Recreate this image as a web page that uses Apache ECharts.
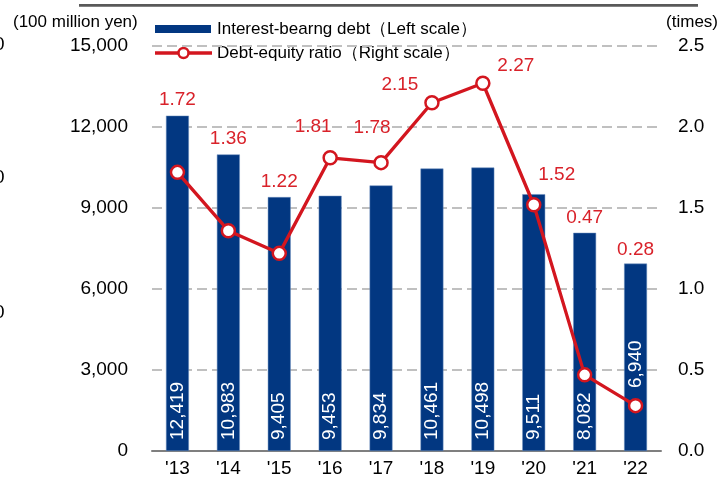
<!DOCTYPE html>
<html>
<head>
<meta charset="utf-8">
<script src="https://cdn.jsdelivr.net/npm/echarts@6/dist/echarts.min.js"></script>
<style>
html,body{margin:0;padding:0;background:#fff;}
#c{width:720px;height:481px;}
</style>
</head>
<body>
<div id="c"></div>
<script>
var categories = ["'13","'14","'15","'16","'17","'18","'19","'20","'21","'22"];
var debtValues = [12419, 10983, 9405, 9453, 9834, 10461, 10498, 9511, 8082, 6940];
var ratioValues = [1.72, 1.36, 1.22, 1.81, 1.78, 2.15, 2.27, 1.52, 0.47, 0.28];
var leftTicks = [0, 3000, 6000, 9000, 12000, 15000];
var rightTicks = [0.0, 0.5, 1.0, 1.5, 2.0, 2.5];
var barName = 'Interest-bearng debt（Left scale）';
var lineName = 'Debt-equity ratio（Right scale）';

// label placement (style only)
var ratioLabelOffsets = [[0,-73],[0,-92],[0,-72],[-17,-31],[-9,-35],[-32,-18],[33,-17],[23,-30],[0,-157],[0,-156]];
var barLabelDistances = [11, 11, 11, 11, 11, 11, 11, 11, 11, 63];

var FONT = 'Arial, "Liberation Sans", sans-serif';
var BLUE = '#023781';
var RED = '#d3161f';
var chart = echarts.init(document.getElementById('c'), null, {renderer:'canvas'});

var lineData = ratioValues.map(function(v,i){
  return {value: v, label: {offset: ratioLabelOffsets[i]}};
});
var barData = debtValues.map(function(v,i){
  return {value: v, label: {distance: barLabelDistances[i]}};
});

var option = {
  backgroundColor: '#fff',
  animation: false,
  grid: {left:152, right:59, top:46, bottom:30, containLabel:false},
  xAxis: {
    type:'category', data: categories,
    axisLine:{show:true, lineStyle:{color:'#7f7f7f', width:2}},
    axisTick:{show:false},
    axisLabel:{color:'#000', fontSize:19, fontFamily:FONT, margin:8}
  },
  yAxis: [{
    type:'value', min:leftTicks[0], max:leftTicks[leftTicks.length-1], interval:leftTicks[1]-leftTicks[0],
    axisLine:{show:false}, axisTick:{show:false},
    axisLabel:{color:'#000', fontSize:19, fontFamily:FONT, margin:24,
      formatter:function(v){return v.toLocaleString('en-US');}},
    splitLine:{show:true, lineStyle:{color:'#c0c0c0', width:2, type:[10,5]}}
  },{
    type:'value', min:rightTicks[0], max:rightTicks[rightTicks.length-1], interval:rightTicks[1]-rightTicks[0],
    axisLine:{show:false}, axisTick:{show:false},
    axisLabel:{color:'#000', fontSize:19, fontFamily:FONT, margin:17, align:'left',
      formatter:function(v){return v.toFixed(1);}},
    splitLine:{show:false}
  }],
  series: [{
    name: barName, type:'bar', data: barData, yAxisIndex:0,
    barWidth:'45%',
    itemStyle:{color:BLUE, borderColor:'#6d8fbf', borderWidth:0.5},
    label:{show:true, position:'insideBottom', distance:11, rotate:90, align:'left', verticalAlign:'middle',
      color:'#fff', fontSize:19, fontFamily:FONT,
      formatter:function(p){return p.value.toLocaleString('en-US');}},
    z:2
  },{
    name: lineName, type:'line', data: lineData, yAxisIndex:1,
    symbol:'circle', symbolSize:13,
    lineStyle:{color:RED, width:3.3},
    itemStyle:{color:'#fff', borderColor:RED, borderWidth:2.5},
    label:{show:true, position:'inside', color:'#d9222a', fontSize:19, fontFamily:FONT,
      formatter:function(p){return p.value.toFixed(2);}},
    z:5
  }],
  graphic: [
    {type:'rect', shape:{x:79, y:4, width:619, height:2.7}, style:{fill:'#595959'}},
    {type:'text', left:-6, top:35, style:{text:'0', fontSize:19, fontFamily:FONT, fill:'#000'}},
    {type:'text', left:-6, top:168, style:{text:'0', fontSize:19, fontFamily:FONT, fill:'#000'}},
    {type:'text', left:-6, top:303, style:{text:'0', fontSize:19, fontFamily:FONT, fill:'#000'}},
    {type:'text', x:13, y:22, style:{text:'(100 million yen)', fontSize:17, fontFamily:FONT, fill:'#000', textVerticalAlign:'middle'}},
    {type:'text', x:718, y:22, style:{text:'(times)', fontSize:17, fontFamily:FONT, fill:'#000', textAlign:'right', textVerticalAlign:'middle'}},
    {type:'rect', shape:{x:155, y:25, width:56, height:8}, style:{fill:BLUE}},
    {type:'text', x:217, y:29, style:{text:barName, fontSize:17, fontFamily:FONT, fill:'#000', textVerticalAlign:'middle'}},
    {type:'line', shape:{x1:155, y1:53, x2:212, y2:53}, style:{stroke:RED, lineWidth:3.3}},
    {type:'circle', shape:{cx:183.5, cy:53, r:5}, style:{fill:'#fff', stroke:RED, lineWidth:2.5}},
    {type:'text', x:217, y:53, style:{text:lineName, fontSize:17, fontFamily:FONT, fill:'#000', textVerticalAlign:'middle'}}
  ]
};
chart.setOption(option);
</script>
</body>
</html>
